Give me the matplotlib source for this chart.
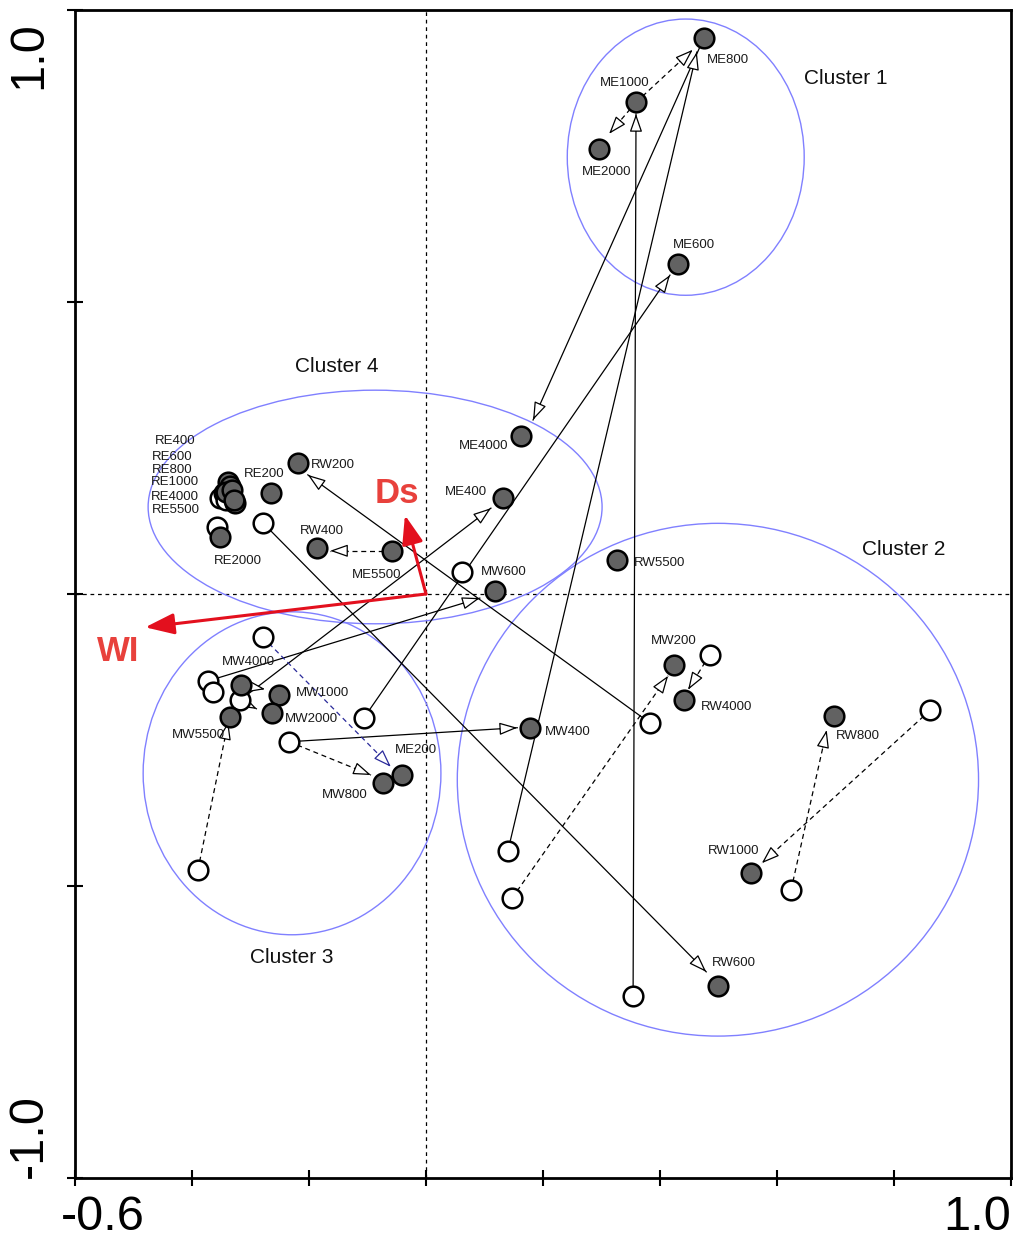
import numpy as np
import matplotlib
matplotlib.use("Agg")
import matplotlib.pyplot as plt
from matplotlib.patches import Ellipse
from matplotlib.transforms import ScaledTranslation

plt.rcParams['font.family'] = ['Liberation Sans', 'DejaVu Sans']

# filled points (second survey), with labels
pt_names = ['ME800', 'ME1000', 'ME2000', 'ME600', 'ME4000', 'ME400', 'ME5500', 'MW600',
            'RW5500', 'RW200', 'RE200', 'RW400', 'RE400', 'RE600', 'RE800', 'RE1000',
            'RE4000', 'RE5500', 'RE2000', 'MW4000', 'MW1000', 'MW2000', 'MW5500', 'ME200',
            'MW800', 'MW400', 'MW200', 'RW4000', 'RW800', 'RW1000', 'RW600']
pt_x = [0.475, 0.359, 0.296, 0.431, 0.162, 0.132, -0.058, 0.118,
        0.327, -0.219, -0.265, -0.186, -0.338, -0.335, -0.342, -0.331,
        -0.326, -0.329, -0.352, -0.316, -0.251, -0.263, -0.335, -0.041,
        -0.073, 0.178, 0.424, 0.441, 0.697, 0.556, 0.499]
pt_y = [0.952, 0.842, 0.762, 0.565, 0.271, 0.164, 0.074, 0.005,
        0.058, 0.224, 0.173, 0.079, 0.192, 0.185, 0.175, 0.178,
        0.156, 0.161, 0.098, -0.156, -0.173, -0.204, -0.211, -0.310,
        -0.324, -0.229, -0.122, -0.182, -0.209, -0.478, -0.671]

# open points (first survey)
open_x = [-0.279, -0.357, -0.352, -0.345, -0.342, 0.062, -0.279, -0.373, -0.364, -0.318,
          -0.106, -0.234, -0.390, 0.383, 0.485, 0.862, 0.140, 0.147, 0.624, 0.354]
open_y = [0.122, 0.115, 0.164, 0.173, 0.161, 0.038, -0.074, -0.149, -0.168, -0.182,
          -0.212, -0.253, -0.473, -0.221, -0.104, -0.199, -0.440, -0.521, -0.507, -0.688]

# solid trajectories: start -> arrow tip
sol_x0 = [0.475, 0.354, 0.140, -0.106, -0.318, -0.373, 0.383, -0.279, -0.234]
sol_y0 = [0.952, -0.688, -0.440, -0.212, -0.182, -0.149, -0.221, 0.122, -0.253]
sol_x1 = [0.183, 0.359, 0.463, 0.417, 0.111, 0.092, -0.202, 0.479, 0.156]
sol_y1 = [0.298, 0.822, 0.928, 0.546, 0.147, -0.007, 0.204, -0.647, -0.229]

# dashed trajectories
dsh_x0 = [0.359, 0.359, -0.058, -0.234, -0.390, 0.147, 0.485, 0.862, 0.624, -0.316, -0.318]
dsh_y0 = [0.842, 0.842, 0.074, -0.253, -0.473, -0.521, -0.104, -0.199, -0.507, -0.156, -0.182]
dsh_x1 = [0.456, 0.313, -0.164, -0.094, -0.338, 0.414, 0.448, 0.574, 0.685, -0.275, -0.289]
dsh_y1 = [0.932, 0.788, 0.074, -0.310, -0.219, -0.140, -0.164, -0.461, -0.233, -0.163, -0.197]

# blue dashed trajectory
blu_x0, blu_y0 = [-0.279], [-0.074]
blu_x1, blu_y1 = [-0.060], [-0.296]

# environmental vectors
env_names = ['Ds', 'WI']
env_x = [-0.036, -0.480]
env_y = [0.135, -0.057]

# clusters
cl_names = ['Cluster 1', 'Cluster 4', 'Cluster 2', 'Cluster 3']
cl_cx = [0.444, -0.087, 0.499, -0.229]
cl_cy = [0.748, 0.149, -0.318, -0.307]
cl_w = [0.405, 0.776, 0.891, 0.509]
cl_h = [0.473, 0.400, 0.878, 0.553]
cl_lab_x = [0.718, -0.152, 0.817, -0.229]
cl_lab_y = [0.882, 0.389, 0.077, -0.622]

# label offsets in pixels (right, down) from the point
lab_off = {'ME800': (3, 22), 'ME1000': (-36, -19), 'ME2000': (-17, 23), 'ME600': (-5, -19),
           'ME4000': (-62, 10), 'ME400': (-58, -6), 'ME5500': (-40, 24), 'MW600': (-14, -19),
           'RW5500': (17, 3), 'RW200': (13, 2), 'RE200': (-27, -19), 'RW400': (-17, -17),
           'RE400': (-73, -41), 'RE600': (-78, -29), 'RE800': (-74, -22), 'RE1000': (-81, -8),
           'RE4000': (-84, -6), 'RE5500': (-82, 10), 'RE2000': (-6, 24), 'MW4000': (-19, -23),
           'MW1000': (17, -2), 'MW2000': (13, 6), 'MW5500': (-58, 18), 'ME200': (-7, -25),
           'MW800': (-61, 12), 'MW400': (15, 4), 'MW200': (-23, -24), 'RW4000': (17, 7),
           'RW800': (2, 20), 'RW1000': (-43, -22), 'RW600': (-6, -23)}

fig = plt.figure(figsize=(10.13, 12.43), dpi=100)
ax = fig.add_axes([75 / 1013, 65 / 1243, 936 / 1013, 1168 / 1243])
ax.set_xlim(-0.6, 1.0)
ax.set_ylim(-1.0, 1.0)

ax.axhline(0, color='black', lw=0.9, ls=(0, (3, 3)), zorder=1)
ax.axvline(0, color='black', lw=0.9, ls=(0, (3, 3)), zorder=1)

for cx, cy, w, h in zip(cl_cx, cl_cy, cl_w, cl_h):
    ax.add_patch(Ellipse((cx, cy), w, h, fill=False, ec='#8080ff', lw=1.0, zorder=1))
for name, lx, ly in zip(cl_names, cl_lab_x, cl_lab_y):
    ax.text(lx, ly, name, fontsize=15, ha='center', va='center', color='#111111')


def draw_arrow(x0, y0, x1, y1, color, ls):
    ax.plot([x0, x1], [y0, y1], color=color, lw=0.9, ls=ls, zorder=2)
    d = np.hypot(x1 - x0, y1 - y0)
    bx = x1 - 0.03 * (x1 - x0) / d
    by = y1 - 0.03 * (y1 - y0) / d
    ax.annotate('', xy=(x1, y1), xytext=(bx, by),
                arrowprops=dict(arrowstyle='-|>,head_length=1.0,head_width=0.35',
                                mutation_scale=11, fc='white', ec=color, lw=0.9,
                                shrinkA=0, shrinkB=0), zorder=3)


for a, b, c, d in zip(sol_x0, sol_y0, sol_x1, sol_y1):
    draw_arrow(a, b, c, d, 'black', '-')
for a, b, c, d in zip(dsh_x0, dsh_y0, dsh_x1, dsh_y1):
    draw_arrow(a, b, c, d, 'black', (0, (4, 3)))
for a, b, c, d in zip(blu_x0, blu_y0, blu_x1, blu_y1):
    draw_arrow(a, b, c, d, '#2a2a9a', (0, (4, 3)))

red = '#e3101e'
for name, ex, ey in zip(env_names, env_x, env_y):
    ax.annotate('', xy=(ex, ey), xytext=(0, 0),
                arrowprops=dict(arrowstyle='-|>,head_length=1.1,head_width=0.4',
                                mutation_scale=16, color=red, lw=2.2,
                                shrinkA=0, shrinkB=0), zorder=6)
ax.text(-0.050, 0.172, 'Ds', fontsize=25, fontweight='bold', color='#e8413c',
        ha='center', va='center')
ax.text(-0.526, -0.099, 'WI', fontsize=25, fontweight='bold', color='#e8413c',
        ha='center', va='center')

ax.scatter(open_x, open_y, s=200, facecolor='white', edgecolor='black', lw=1.8, zorder=4)
ax.scatter(pt_x, pt_y, s=200, facecolor='#626262', edgecolor='black', lw=1.8, zorder=5)

for name, x, y in zip(pt_names, pt_x, pt_y):
    dx, dy = lab_off[name]
    ax.annotate(name, (x, y), xytext=(dx * 0.72, -dy * 0.72), textcoords='offset points',
                fontsize=9.5, ha='left', va='center', color='#1a1a1a', zorder=7)

for s in ax.spines.values():
    s.set_linewidth(2)

xt = np.round(np.arange(-0.6, 1.01, 0.2), 1)
ax.set_xticks(xt)
ax.set_xticklabels(['-0.6'] + [''] * (len(xt) - 2) + ['1.0'])
ax.set_yticks([-1.0, -0.5, 0, 0.5, 1.0])
ax.set_yticklabels(['-1.0', '', '', '', '1.0'])
ax.tick_params(direction='inout', length=12, width=1.5, labelsize=35, pad=6)
ax.tick_params(axis='y', pad=11)

xl = ax.get_xticklabels()
xl[0].set_ha('left')
xl[0].set_transform(xl[0].get_transform() + ScaledTranslation(-10 / 72, 0, fig.dpi_scale_trans))
xl[-1].set_ha('right')
yl = ax.get_yticklabels()
for lab in yl:
    lab.set_rotation(90)
yl[0].set_va('bottom')
yl[-1].set_va('top')
yl[-1].set_transform(yl[-1].get_transform() + ScaledTranslation(0, -8 / 72, fig.dpi_scale_trans))

fig.savefig('out.png', dpi=100)
